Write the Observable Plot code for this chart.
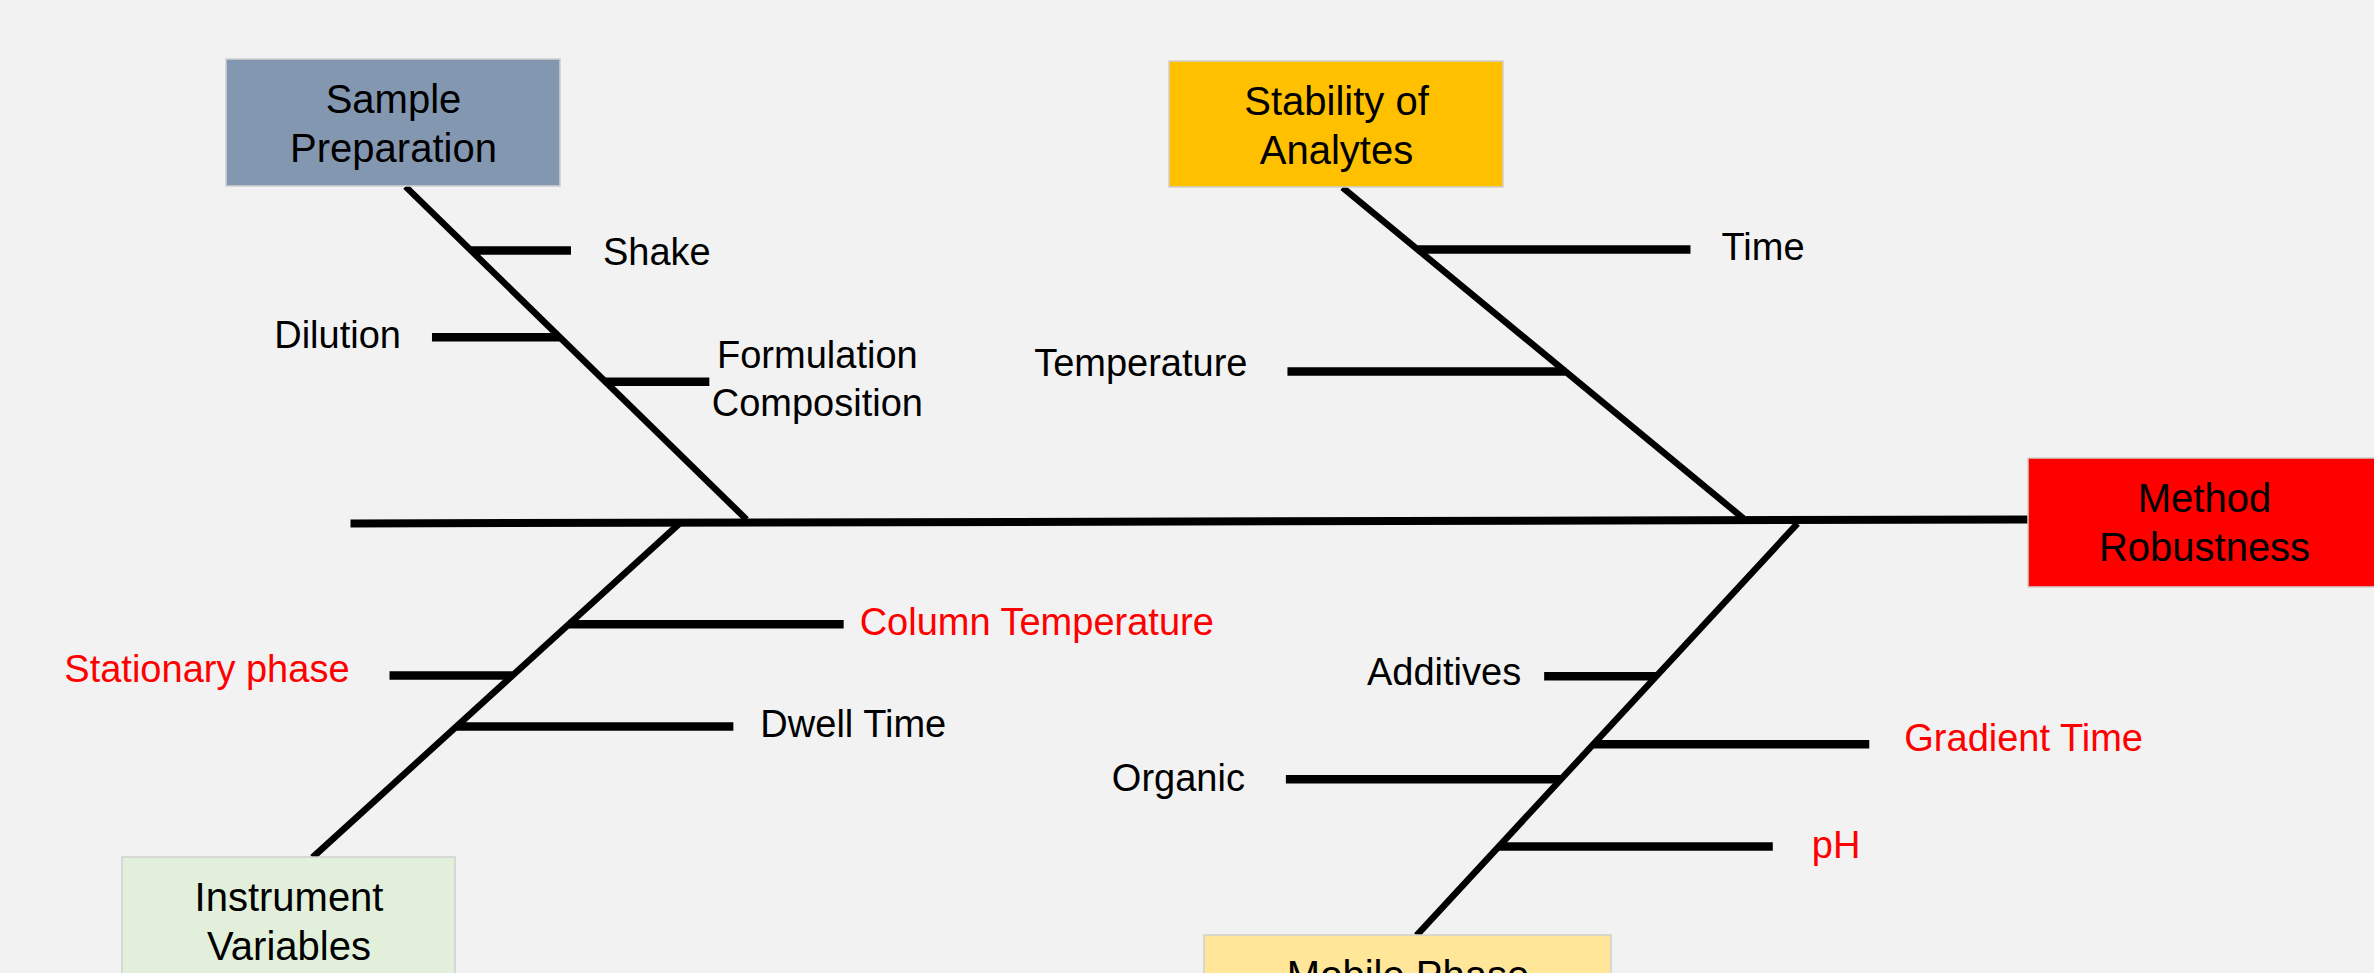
<!DOCTYPE html>
<html>
<head>
<meta charset="utf-8">
<script src="https://cdn.jsdelivr.net/npm/d3@7"></script>
<script src="https://cdn.jsdelivr.net/npm/@observablehq/plot@0.6"></script>
<style>
  html, body { margin: 0; padding: 0; background: #f2f2f2; overflow: hidden; }
  #chart svg { display: block; overflow: hidden; }
</style>
</head>
<body>
<div id="chart"></div>
<script>
// ---------- DATA ----------
const effect = "Method\nRobustness";
const categories = ["Sample\nPreparation", "Stability of\nAnalytes", "Instrument\nVariables", "Mobile Phase"];
const causeLabel = ["Shake", "Dilution", "Formulation\nComposition", "Time", "Temperature",
  "Column Temperature", "Stationary phase", "Dwell Time",
  "Additives", "Gradient Time", "Organic", "pH"];
const causeCategory = [0, 0, 0, 1, 1, 2, 2, 2, 3, 3, 3, 3];
const causeCritical = [false, false, false, false, false, true, true, false, false, true, false, true];

// ---------- LAYOUT (diagram units) ----------
const W = 2374, H = 973;
const spine = {x1: 350, y1: 523, x2: 2028, y2: 519};
const effectBox = {x1: 2028, x2: 2385, y1: 458, y2: 587};
const catBox = [
  {x1: 226, x2: 560, y1: 59, y2: 186},
  {x1: 1169, x2: 1503, y1: 61, y2: 187},
  {x1: 122, x2: 455, y1: 857, y2: 985},
  {x1: 1204, x2: 1611, y1: 935, y2: 1063}
];
const bone = [ // head (at box) -> foot (at spine)
  {hx: 405, hy: 186, fx: 746, fy: 519},
  {hx: 1342, hy: 187, fx: 1743, fy: 518},
  {hx: 312, hy: 857, fx: 679, fy: 523},
  {hx: 1416, hy: 935, fx: 1797, fy: 523}
];
const causeT = [0.192, 0.453, 0.586, 0.187, 0.556, 0.698, 0.545, 0.392, 0.629, 0.464, 0.379, 0.216];
const causeSide = [1, -1, 1, 1, -1, 1, -1, 1, -1, 1, -1, 1];
const causeLen = [100, 128, 104, 273, 278, 275, 123, 277, 112, 276, 275, 274];
const labelGap = [32, 31, 108, 31, 40, 16, 40, 27, 23, 35, 41, 39];
const labelDy = [-1, -5, -5, -5, -11, -5, -9, -5, -7, -9, -4, -4];

// ---------- STYLES ----------
const catFill = ["#8497b0", "#ffc000", "#e2efda", "#ffe699"];
const effectFill = "#ff0000";
const font = "'Liberation Sans', Arial, Helvetica, sans-serif";

// ---------- BUILD ----------
const boxes = catBox.map((b, i) => ({...b, label: categories[i], fill: catFill[i]}))
  .concat([{...effectBox, label: effect, fill: effectFill}]);
const bones = bone.map(b => ({x1: b.hx, y1: b.hy, x2: b.fx, y2: b.fy}));
const causes = causeLabel.map((label, i) => {
  const b = bone[causeCategory[i]];
  const t = causeT[i];
  const ax = b.hx + t * (b.fx - b.hx);
  const ay = b.hy + t * (b.fy - b.hy);
  const ex = ax + causeSide[i] * causeLen[i];
  const multi = label.includes("\n");
  return {label, ax, ay, ex, side: causeSide[i], ly: ay + labelDy[i],
    anchor: multi ? "middle" : (causeSide[i] > 0 ? "start" : "end"),
    lx: ex + causeSide[i] * labelGap[i], critical: causeCritical[i]};
});

const chart = Plot.plot({
  width: W, height: H, margin: 0,
  x: {domain: [0, W], range: [0, W], axis: null},
  y: {domain: [0, H], range: [0, H], axis: null},
  style: {background: "#f2f2f2", fontFamily: font, overflow: "hidden"},
  marks: [
    Plot.link([spine], {x1: "x1", y1: "y1", x2: "x2", y2: "y2", stroke: "#000", strokeWidth: 8}),
    Plot.link(bones, {x1: "x1", y1: "y1", x2: "x2", y2: "y2", stroke: "#000", strokeWidth: 6.5}),
    Plot.link(causes, {x1: "ax", y1: "ay", x2: "ex", y2: "ay", stroke: "#000", strokeWidth: 8.5}),
    ...["start", "middle", "end"].map(a =>
      Plot.text(causes.filter(d => d.anchor === a), {x: "lx", y: "ly", text: "label", textAnchor: a,
        fontSize: 38, lineHeight: 1.27, fill: d => d.critical ? "#ff0000" : "#000"})),
    Plot.rect(boxes, {x1: "x1", x2: "x2", y1: "y1", y2: "y2", fill: d => d.fill, stroke: "#d0d0d0", strokeWidth: 1.5}),
    Plot.text(boxes, {x: d => (d.x1 + Math.min(d.x2, W + 6)) / 2, y: "y1", text: "label", dy: 19,
      lineAnchor: "top", lineHeight: 1.225, fontSize: 40, fill: "#000"})
  ]
});
document.getElementById("chart").appendChild(chart);
</script>
</body>
</html>
